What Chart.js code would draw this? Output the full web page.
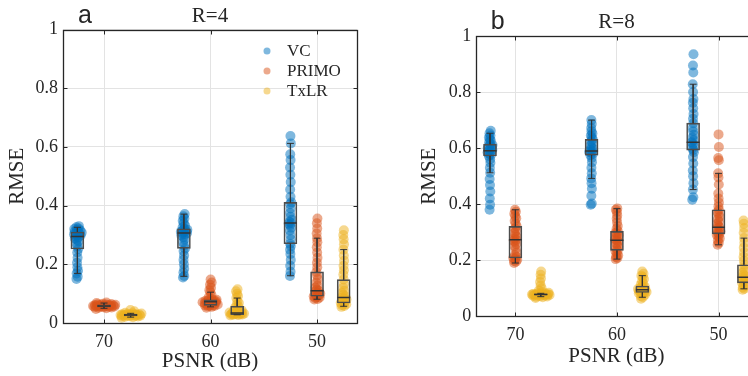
<!DOCTYPE html>
<html>
<head>
<meta charset="utf-8">
<title>RMSE vs PSNR</title>
<script src="https://cdn.jsdelivr.net/npm/chart.js@4.4.1/dist/chart.umd.min.js"></script>
<style>
html, body { margin: 0; padding: 0; background: #fff; overflow: hidden; }
#wrap { position: relative; width: 748px; height: 376px; overflow: hidden; }
#chartA { position: absolute; left: 0; top: 0; }
#chartB { position: absolute; left: 374px; top: 0; }
</style>
</head>
<body>
<div id="wrap">
	<canvas id="chartA" width="374" height="376"></canvas>
	<canvas id="chartB" width="400" height="376"></canvas>
</div>
<script>
window.addEventListener('load', setup);

var psnrLabels = ["70", "60", "50"];
var seriesNames = ["VC", "PRIMO", "TxLR"];
var seriesColors = ["rgba(0,114,189,0.5)", "rgba(217,83,25,0.5)", "rgba(237,177,32,0.5)"];
var seriesShift = [-0.25, 0, 0.25];

// R=4 : one list per PSNR level (70, 60, 50)
var vcR4 = [
	[0.150, 0.158, 0.169, 0.178, 0.190, 0.205, 0.222, 0.240, 0.252, 0.262, 0.270, 0.278, 0.284, 0.288, 0.292, 0.295, 0.298, 0.300, 0.302, 0.304, 0.306, 0.308, 0.310, 0.312, 0.315, 0.318, 0.320, 0.322, 0.326, 0.330],
	[0.155, 0.160, 0.172, 0.185, 0.200, 0.215, 0.230, 0.245, 0.254, 0.265, 0.275, 0.285, 0.292, 0.298, 0.302, 0.305, 0.307, 0.309, 0.311, 0.313, 0.316, 0.318, 0.321, 0.326, 0.332, 0.340, 0.348, 0.356, 0.364, 0.371],
	[0.160, 0.175, 0.195, 0.215, 0.235, 0.250, 0.262, 0.270, 0.285, 0.300, 0.315, 0.325, 0.333, 0.338, 0.341, 0.345, 0.352, 0.362, 0.375, 0.390, 0.405, 0.411, 0.430, 0.455, 0.480, 0.505, 0.530, 0.555, 0.575, 0.612, 0.637]
];
var primoR4 = [
	[0.048, 0.050, 0.052, 0.053, 0.054, 0.055, 0.055, 0.056, 0.056, 0.057, 0.057, 0.058, 0.058, 0.058, 0.059, 0.059, 0.060, 0.060, 0.061, 0.061, 0.062, 0.062, 0.063, 0.064, 0.065, 0.066, 0.068, 0.070],
	[0.052, 0.055, 0.057, 0.058, 0.059, 0.060, 0.061, 0.062, 0.063, 0.065, 0.067, 0.069, 0.070, 0.071, 0.072, 0.073, 0.074, 0.075, 0.076, 0.077, 0.078, 0.079, 0.082, 0.088, 0.095, 0.105, 0.112, 0.120, 0.130, 0.138, 0.148],
	[0.080, 0.082, 0.085, 0.087, 0.089, 0.091, 0.094, 0.097, 0.100, 0.104, 0.107, 0.110, 0.114, 0.120, 0.128, 0.138, 0.150, 0.162, 0.174, 0.190, 0.205, 0.222, 0.240, 0.258, 0.275, 0.289, 0.305, 0.322, 0.340, 0.356]
];
var txlrR4 = [
	[0.018, 0.020, 0.021, 0.022, 0.023, 0.024, 0.024, 0.025, 0.025, 0.026, 0.026, 0.027, 0.027, 0.027, 0.028, 0.028, 0.029, 0.029, 0.030, 0.030, 0.031, 0.032, 0.033, 0.035, 0.040, 0.044],
	[0.026, 0.027, 0.028, 0.029, 0.029, 0.030, 0.031, 0.031, 0.032, 0.033, 0.033, 0.034, 0.035, 0.036, 0.038, 0.040, 0.043, 0.047, 0.052, 0.057, 0.062, 0.068, 0.075, 0.085, 0.092, 0.100, 0.108, 0.115],
	[0.055, 0.058, 0.061, 0.064, 0.066, 0.068, 0.072, 0.076, 0.080, 0.084, 0.087, 0.091, 0.096, 0.102, 0.110, 0.120, 0.132, 0.148, 0.165, 0.180, 0.195, 0.212, 0.230, 0.250, 0.268, 0.285, 0.300, 0.316]
];

// R=8
var vcR8 = [
	[0.380, 0.398, 0.420, 0.445, 0.468, 0.490, 0.512, 0.530, 0.548, 0.560, 0.572, 0.576, 0.580, 0.584, 0.588, 0.591, 0.594, 0.597, 0.600, 0.604, 0.608, 0.611, 0.614, 0.620, 0.626, 0.632, 0.638, 0.645, 0.653, 0.662],
	[0.398, 0.402, 0.430, 0.455, 0.475, 0.492, 0.510, 0.530, 0.550, 0.565, 0.575, 0.580, 0.584, 0.587, 0.590, 0.594, 0.598, 0.603, 0.610, 0.618, 0.625, 0.631, 0.638, 0.645, 0.652, 0.660, 0.672, 0.686, 0.700],
	[0.416, 0.425, 0.452, 0.475, 0.500, 0.520, 0.545, 0.568, 0.585, 0.593, 0.600, 0.608, 0.615, 0.621, 0.628, 0.637, 0.648, 0.660, 0.672, 0.689, 0.705, 0.722, 0.742, 0.762, 0.775, 0.800, 0.828, 0.870, 0.895, 0.935]
];
var primoR8 = [
	[0.190, 0.195, 0.198, 0.202, 0.205, 0.208, 0.212, 0.218, 0.228, 0.240, 0.250, 0.258, 0.265, 0.270, 0.273, 0.278, 0.284, 0.290, 0.298, 0.305, 0.313, 0.321, 0.330, 0.340, 0.350, 0.358, 0.366, 0.373, 0.380],
	[0.204, 0.208, 0.212, 0.218, 0.225, 0.232, 0.235, 0.242, 0.250, 0.256, 0.262, 0.267, 0.271, 0.275, 0.279, 0.284, 0.289, 0.294, 0.298, 0.303, 0.312, 0.322, 0.335, 0.348, 0.360, 0.372, 0.380, 0.385],
	[0.255, 0.262, 0.270, 0.278, 0.285, 0.290, 0.294, 0.298, 0.303, 0.308, 0.313, 0.318, 0.323, 0.330, 0.338, 0.346, 0.355, 0.365, 0.372, 0.380, 0.392, 0.405, 0.420, 0.438, 0.470, 0.495, 0.510, 0.557, 0.565, 0.604, 0.649]
];
var txlrR8 = [
	[0.065, 0.068, 0.070, 0.071, 0.072, 0.073, 0.074, 0.075, 0.076, 0.076, 0.077, 0.077, 0.078, 0.078, 0.078, 0.079, 0.079, 0.080, 0.080, 0.081, 0.082, 0.084, 0.087, 0.092, 0.100, 0.110, 0.122, 0.135, 0.148, 0.160],
	[0.063, 0.068, 0.072, 0.076, 0.079, 0.082, 0.084, 0.085, 0.087, 0.089, 0.091, 0.093, 0.095, 0.097, 0.099, 0.101, 0.104, 0.108, 0.112, 0.118, 0.125, 0.133, 0.140, 0.145, 0.152, 0.160],
	[0.095, 0.098, 0.103, 0.108, 0.113, 0.119, 0.124, 0.128, 0.132, 0.136, 0.139, 0.143, 0.148, 0.155, 0.163, 0.172, 0.184, 0.198, 0.212, 0.228, 0.245, 0.262, 0.279, 0.298, 0.315, 0.330, 0.342]
];

// box stats per PSNR level: [q1, median, q3, whisker low, whisker high]
var vcBoxR4 = [[0.252, 0.295, 0.310, 0.169, 0.326], [0.254, 0.307, 0.321, 0.159, 0.371], [0.270, 0.341, 0.411, 0.161, 0.612]];
var primoBoxR4 = [[0.055, 0.058, 0.062, 0.050, 0.068], [0.060, 0.072, 0.079, 0.055, 0.105], [0.091, 0.110, 0.174, 0.081, 0.289]];
var txlrBoxR4 = [[0.024, 0.027, 0.030, 0.020, 0.033], [0.028, 0.034, 0.057, 0.028, 0.085], [0.068, 0.087, 0.148, 0.057, 0.250]];
var vcBoxR8 = [[0.572, 0.591, 0.614, 0.512, 0.653], [0.575, 0.590, 0.631, 0.492, 0.700], [0.593, 0.621, 0.689, 0.452, 0.828]];
var primoBoxR8 = [[0.208, 0.273, 0.321, 0.190, 0.380], [0.235, 0.271, 0.303, 0.204, 0.384], [0.294, 0.318, 0.380, 0.255, 0.510]];
var txlrBoxR8 = [[0.076, 0.078, 0.080, 0.070, 0.082], [0.085, 0.095, 0.108, 0.068, 0.145], [0.119, 0.139, 0.184, 0.098, 0.279]];

var serif = "'Liberation Serif', 'Times New Roman', serif";
var ink = "#262626";

// spread points sideways according to how crowded their value is
function swarmOffsets(values){
	var out = [];
	for( var i = 0; i < values.length; i++){
		var n = 0;
		for( var j = 0; j < values.length; j++){
			if(Math.abs(values[j] - values[i]) <= 0.012) n++;
		}
		var u = ((i * 0.618034) % 1) * 2 - 1;
		out.push(u * 0.11 * Math.min(1, n / 26));
	}
	return out;
}

function buildDatasets(series, boxes){
	var sets = [];
	var boxData = [], medData = [], capData = [], whiskData = [];
	for( var s = 0; s < 3; s++){
		var pts = [];
		for( var g = 0; g < 3; g++){
			var xc = g + 1 + seriesShift[s];
			var vals = series[s][g];
			var offs = swarmOffsets(vals);
			for( var k = 0; k < vals.length; k++){
				pts.push({x: xc + offs[k], y: vals[k]});
			}
			var b = boxes[s][g];
			boxData.push({x: xc, y: [b[0], b[2]]});
			medData.push({x: xc, y: b[1]});
			capData.push({x: xc, y: b[3]}, {x: xc, y: b[4]});
			whiskData.push({x: xc, y: b[4]}, {x: xc, y: b[2]}, {x: xc, y: null},
				{x: xc, y: b[0]}, {x: xc, y: b[3]}, {x: xc, y: null});
		}
		sets.push({
			type: 'scatter', label: seriesNames[s], data: pts,
			backgroundColor: seriesColors[s], borderWidth: 0,
			pointRadius: 5, pointHoverRadius: 5, order: 10
		});
	}
	sets.push({type: 'bar', data: boxData, backgroundColor: 'rgba(0,0,0,0)', borderColor: '#4d4d4d',
		borderWidth: 1, barThickness: 13, borderSkipped: false, order: 5});
	sets.push({type: 'line', data: whiskData, borderColor: '#333', borderWidth: 1,
		pointRadius: 0, spanGaps: false, fill: false, order: 4});
	sets.push({type: 'scatter', data: medData, pointStyle: 'line', pointRadius: 6.5,
		borderColor: '#333', borderWidth: 1.5, order: 3});
	sets.push({type: 'scatter', data: capData, pointStyle: 'line', pointRadius: 3.5,
		borderColor: '#333', borderWidth: 1, order: 3});
	return sets;
}

// axes box, inner ticks, panel letter, title and legend
function decor(letter, title, letterDx, titleY, showLegend){
	return {
		id: 'decor',
		afterDatasetsDraw: function(chart){
			var a = chart.chartArea, ctx = chart.ctx;
			var l = Math.round(a.left) + 0.5, r = Math.round(a.right) + 0.5;
			var t = Math.round(a.top) + 0.5, b = Math.round(a.bottom) + 0.5;
			ctx.save();
			ctx.strokeStyle = ink;
			ctx.lineWidth = 1.3;
			ctx.strokeRect(l, t, r - l, b - t);
			ctx.lineWidth = 1;
			ctx.beginPath();
			chart.scales.y.ticks.forEach(function(tk){
				var py = Math.round(chart.scales.y.getPixelForValue(tk.value)) + 0.5;
				ctx.moveTo(l, py); ctx.lineTo(l + 4, py);
				ctx.moveTo(r, py); ctx.lineTo(r - 4, py);
			});
			[1, 2, 3].forEach(function(v){
				var px = Math.round(chart.scales.x.getPixelForValue(v)) + 0.5;
				ctx.moveTo(px, b); ctx.lineTo(px, b - 4);
				ctx.moveTo(px, t); ctx.lineTo(px, t + 4);
			});
			ctx.stroke();
			ctx.restore();
		},
		afterDraw: function(chart){
			var a = chart.chartArea, ctx = chart.ctx;
			ctx.save();
			ctx.fillStyle = ink;
			ctx.textBaseline = 'middle';
			ctx.font = "25px 'Liberation Sans', Arial, sans-serif";
			ctx.textAlign = 'left';
			ctx.fillText(letter, a.left + letterDx, titleY);
			ctx.font = "21px " + serif;
			ctx.textAlign = 'center';
			ctx.fillText(title, (a.left + a.right) / 2, titleY);
			if(showLegend){
				ctx.font = "17px " + serif;
				ctx.textAlign = 'left';
				for( var i = 0; i < seriesNames.length; i++){
					var ly = 51 + i * 20;
					ctx.fillStyle = seriesColors[i];
					ctx.beginPath();
					ctx.arc(267, ly, 3.5, 0, Math.PI * 2);
					ctx.fill();
					ctx.fillStyle = ink;
					ctx.fillText(seriesNames[i], 287, ly + 1);
				}
			}
			ctx.restore();
		}
	};
}

function makeOptions(pad, yWidth, xHeight, yTitlePad, xTitlePad){
	return {
		responsive: false,
		animation: false,
		layout: {padding: pad},
		plugins: {legend: {display: false}, tooltip: {enabled: false}},
		scales: {
			x: {
				type: 'linear', min: 0.615, max: 3.375, offset: false,
				afterBuildTicks: function(sc){ sc.ticks = [{value: 1}, {value: 2}, {value: 3}]; },
				afterFit: function(sc){ sc.height = xHeight; },
				ticks: {
					callback: function(v){ return psnrLabels[Math.round(v) - 1]; },
					font: {family: serif, size: 18}, color: ink, padding: 8, maxRotation: 0
				},
				grid: {color: '#e3e3e3', drawTicks: false, offset: false},
				border: {display: false},
				title: {display: true, text: 'PSNR (dB)', color: ink,
					font: {family: serif, size: 21}, padding: {top: 0, bottom: xTitlePad}}
			},
			y: {
				min: 0, max: 1,
				afterFit: function(sc){ sc.width = yWidth; },
				ticks: {
					stepSize: 0.2,
					callback: function(v){ return String(Math.round(v * 10) / 10); },
					font: {family: serif, size: 18}, color: ink, padding: 5
				},
				grid: {color: '#e3e3e3', drawTicks: false},
				border: {display: false},
				title: {display: true, text: 'RMSE', color: ink,
					font: {family: serif, size: 21}, padding: {top: yTitlePad, bottom: 0}}
			}
		}
	};
}

function setup(){
	new Chart(document.getElementById("chartA"), {
		type: 'scatter',
		data: {datasets: buildDatasets([vcR4, primoR4, txlrR4], [vcBoxR4, primoBoxR4, txlrBoxR4])},
		options: makeOptions({left: 0, right: 17, top: 29.5, bottom: 0}, 63, 53, 5, 2),
		plugins: [decor("a", "R=4", 15, 16, true)]
	});

	new Chart(document.getElementById("chartB"), {
		type: 'scatter',
		data: {datasets: buildDatasets([vcR8, primoR8, txlrR8], [vcBoxR8, primoBoxR8, txlrBoxR8])},
		options: makeOptions({left: 0, right: 17.4, top: 36, bottom: 0}, 102.3, 59.7, 43, 7),
		plugins: [decor("b", "R=8", 14.4, 22, false)]
	});
}
</script>
</body>
</html>
